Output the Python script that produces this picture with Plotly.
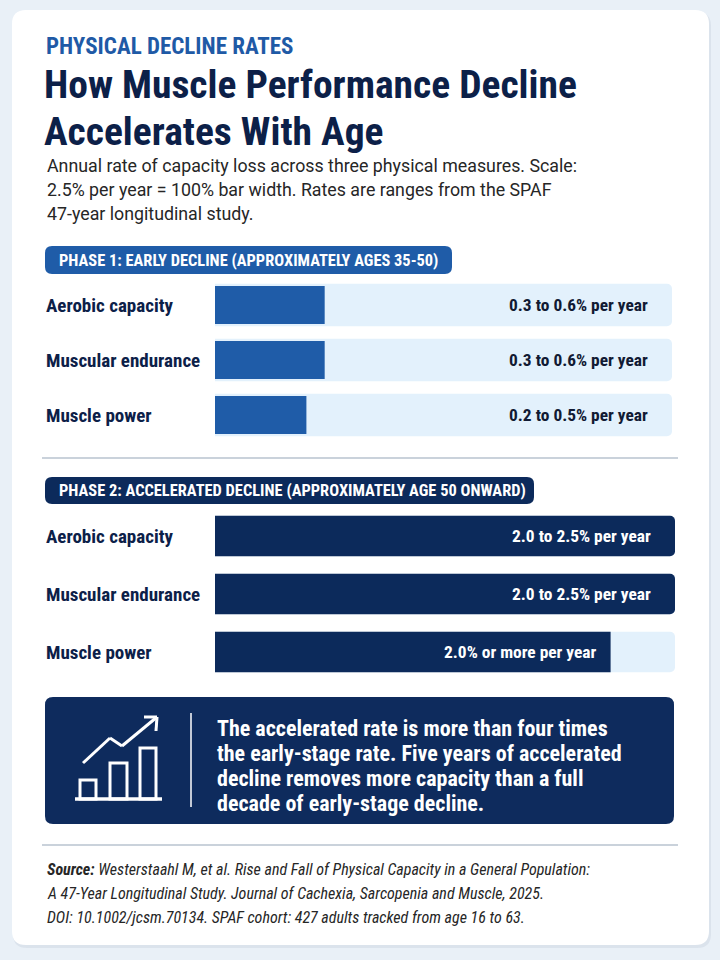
import plotly.graph_objects as go

# ---------------- data ----------------
categories = ["Aerobic capacity", "Muscular endurance", "Muscle power"]
scale_max = 2.5  # 2.5% per year = 100% bar width
phase1_high = [0.6, 0.6, 0.5]
phase1_labels = ["0.3 to 0.6% per year", "0.3 to 0.6% per year", "0.2 to 0.5% per year"]
phase2_high = [2.5, 2.5, 2.15]
phase2_labels = ["2.0 to 2.5% per year", "2.0 to 2.5% per year", "2.0% or more per year"]

eyebrow = "PHYSICAL DECLINE RATES"
title_lines = ["How Muscle Performance Decline", "Accelerates With Age"]
subtitle_lines = [
    "Annual rate of capacity loss across three physical measures. Scale:",
    "2.5% per year = 100% bar width. Rates are ranges from the SPAF",
    "47-year longitudinal study.",
]
phase1_title = "PHASE 1: EARLY DECLINE (APPROXIMATELY AGES 35-50)"
phase2_title = "PHASE 2: ACCELERATED DECLINE (APPROXIMATELY AGE 50 ONWARD)"
callout_lines = [
    "The accelerated rate is more than four times",
    "the early-stage rate. Five years of accelerated",
    "decline removes more capacity than a full",
    "decade of early-stage decline.",
]
source_lines = [
    "<b>Source:</b> Westerstaahl M, et al. Rise and Fall of Physical Capacity in a General Population:",
    "A 47-Year Longitudinal Study. Journal of Cachexia, Sarcopenia and Muscle, 2025.",
    "DOI: 10.1002/jcsm.70134. SPAF cohort: 427 adults tracked from age 16 to 63.",
]

# ---------------- style ----------------
W, H = 720, 960
PAGE_BG = "#e9f0f7"
CARD = "#ffffff"
BLUE = "#1f5ca8"
NAVY = "#0c2a5b"
TITLE_NAVY = "#0c2048"
TRACK = "#e3f1fc"
TEXT = "#262626"
DIVIDER = "#b9c3cf"
FONT = "'Roboto Condensed', 'Archivo Narrow', Roboto, sans-serif"
FONT_SUB = "Roboto, sans-serif"


def px(x):
    return x / W


def py(y):
    return 1 - y / H


def rrect(x0, y0, x1, y1, r, fill, layer="below"):
    X0, X1 = px(x0), px(x1)
    Y0, Y1 = py(y0), py(y1)
    rx, ry = r / W, r / H
    path = (
        f"M {X0+rx},{Y0} L {X1-rx},{Y0} Q {X1},{Y0} {X1},{Y0-ry} "
        f"L {X1},{Y1+ry} Q {X1},{Y1} {X1-rx},{Y1} "
        f"L {X0+rx},{Y1} Q {X0},{Y1} {X0},{Y1+ry} "
        f"L {X0},{Y0-ry} Q {X0},{Y0} {X0+rx},{Y0} Z"
    )
    return dict(type="path", path=path, xref="paper", yref="paper",
                fillcolor=fill, line=dict(width=0), layer=layer)


def seg(x0, y0, x1, y1, color="white", width=3):
    return dict(type="line", xref="paper", yref="paper", x0=px(x0), y0=py(y0),
                x1=px(x1), y1=py(y1), line=dict(color=color, width=width), layer="above")


def box(x0, y0, x1, y1, color="white", width=3):
    return dict(type="rect", xref="paper", yref="paper", x0=px(x0), y0=py(y0),
                x1=px(x1), y1=py(y1), line=dict(color=color, width=width),
                fillcolor="rgba(0,0,0,0)", layer="above")


fig = go.Figure()

# Phase 1 bars
fig.add_trace(go.Bar(x=[scale_max] * len(categories), y=categories, orientation="h",
                     width=0.77, marker=dict(color=TRACK, line=dict(width=0)),
                     xaxis="x", yaxis="y", hoverinfo="skip", showlegend=False))
fig.add_trace(go.Bar(x=phase1_high, y=categories, orientation="h",
                     width=0.69, marker=dict(color=BLUE, line=dict(width=0)),
                     xaxis="x", yaxis="y", showlegend=False))
# Phase 2 bars
fig.add_trace(go.Bar(x=[scale_max] * len(categories), y=categories, orientation="h",
                     width=0.70, marker=dict(color=TRACK, line=dict(width=0)),
                     xaxis="x2", yaxis="y2", hoverinfo="skip", showlegend=False))
fig.add_trace(go.Bar(x=phase2_high, y=categories, orientation="h",
                     width=0.70, marker=dict(color=NAVY, line=dict(width=0)),
                     xaxis="x2", yaxis="y2", showlegend=False))

ann = []
ann.append(dict(text=f"<b>{eyebrow}</b>", x=px(44), y=py(46.5), xanchor="left", yanchor="middle",
                font=dict(size=23, color="#1f5aa6")))
for i, t in enumerate(title_lines):
    ann.append(dict(text=f"<b>{t}</b>", x=px(42), y=py(85 + 46.5 * i), xanchor="left",
                    yanchor="middle", font=dict(size=39.5, color=TITLE_NAVY)))
for i, t in enumerate(subtitle_lines):
    ann.append(dict(text=t, x=px(45), y=py(165 + 24 * i), xanchor="left", yanchor="middle",
                    font=dict(size=17.8, color=TEXT, family=FONT_SUB)))
ann.append(dict(text=f"<b>{phase1_title}</b>", x=px(57), y=py(260.5), xanchor="left",
                yanchor="middle", font=dict(size=16.4, color="white")))
ann.append(dict(text=f"<b>{phase2_title}</b>", x=px(57), y=py(490.5), xanchor="left",
                yanchor="middle", font=dict(size=16.4, color="white")))
for c, lab in zip(categories, phase1_labels):
    ann.append(dict(text=f"<b>{c}</b>", xref="paper", x=px(44), yref="y", y=c,
                    xanchor="left", yanchor="middle", font=dict(size=19, color=TITLE_NAVY)))
    ann.append(dict(text=f"<b>{lab}</b>", xref="x", x=scale_max, xshift=-22, yref="y", y=c,
                    xanchor="right", yanchor="middle", font=dict(size=17.4, color="#111a33")))
for c, v, lab in zip(categories, phase2_high, phase2_labels):
    ann.append(dict(text=f"<b>{c}</b>", xref="paper", x=px(44), yref="y2", y=c,
                    xanchor="left", yanchor="middle", font=dict(size=19, color=TITLE_NAVY)))
    ann.append(dict(text=f"<b>{lab}</b>", xref="x2", x=v, xshift=(-22 if v >= scale_max else -13),
                    yref="y2", y=c, xanchor="right", yanchor="middle",
                    font=dict(size=17.4, color="white")))
for i, t in enumerate(callout_lines):
    ann.append(dict(text=f"<b>{t}</b>", x=px(215), y=py(728 + 25.3 * i), xanchor="left",
                    yanchor="middle", font=dict(size=22, color="white")))
for i, t in enumerate(source_lines):
    ann.append(dict(text=f"<i>{t}</i>", x=px(45), y=py(869 + 24 * i), xanchor="left",
                    yanchor="middle", font=dict(size=16, color=TEXT)))

for a in ann:
    a.setdefault("xref", "paper")
    a.setdefault("yref", "paper")
    a["showarrow"] = False

shapes = []
shapes.append(rrect(13, 12, 711, 948, 14, "rgba(60,80,110,0.08)"))
shapes.append(rrect(12, 10, 709, 945, 14, CARD))
shapes.append(rrect(45, 246, 452, 274, 7, BLUE))
shapes.append(rrect(45, 477, 534, 504, 7, NAVY))
shapes.append(dict(type="line", xref="paper", yref="paper", x0=px(42), x1=px(678), y0=py(458), y1=py(458),
                   line=dict(color=DIVIDER, width=1.5), layer="below"))
shapes.append(dict(type="line", xref="paper", yref="paper", x0=px(42), x1=px(678), y0=py(845), y1=py(845),
                   line=dict(color=DIVIDER, width=1.5), layer="below"))
shapes.append(rrect(45, 697, 674, 824, 8, "#0e2b5d"))
shapes.append(seg(191, 713, 191, 807, width=1.5))
shapes.append(seg(75, 799, 162, 799, width=3.5))
shapes.append(box(80, 780, 96, 799))
shapes.append(box(110, 763, 127, 799))
shapes.append(box(140, 748, 156, 799))
shapes.append(seg(83, 763, 110, 738))
shapes.append(seg(110, 738, 122, 746))
shapes.append(seg(122, 746, 157, 717))
shapes.append(seg(157, 717, 144, 717))
shapes.append(seg(157, 717, 156, 731))

axis_common = dict(showgrid=False, zeroline=False, showticklabels=False, showline=False,
                   ticks="", fixedrange=True)

fig.update_layout(
    width=W, height=H, margin=dict(l=0, r=0, t=0, b=0),
    paper_bgcolor=PAGE_BG, plot_bgcolor="rgba(0,0,0,0)",
    font=dict(family=FONT, color=TEXT),
    barmode="overlay", barcornerradius=5, showlegend=False,
    xaxis=dict(domain=[px(215), px(672)], range=[0, scale_max], anchor="y", **axis_common),
    yaxis=dict(domain=[py(442.5), py(277.5)], type="category", categoryorder="array",
               categoryarray=categories, range=[2.5, -0.5], anchor="x", **axis_common),
    xaxis2=dict(domain=[px(215), px(675)], range=[0, scale_max], anchor="y2", **axis_common),
    yaxis2=dict(domain=[py(681), py(507)], type="category", categoryorder="array",
                categoryarray=categories, range=[2.5, -0.5], anchor="x2", **axis_common),
    annotations=ann, shapes=shapes,
)

fig.write_html("out.html", config={"displayModeBar": False},
               post_script="document.body.style.margin='0';document.body.style.overflow='hidden';")
